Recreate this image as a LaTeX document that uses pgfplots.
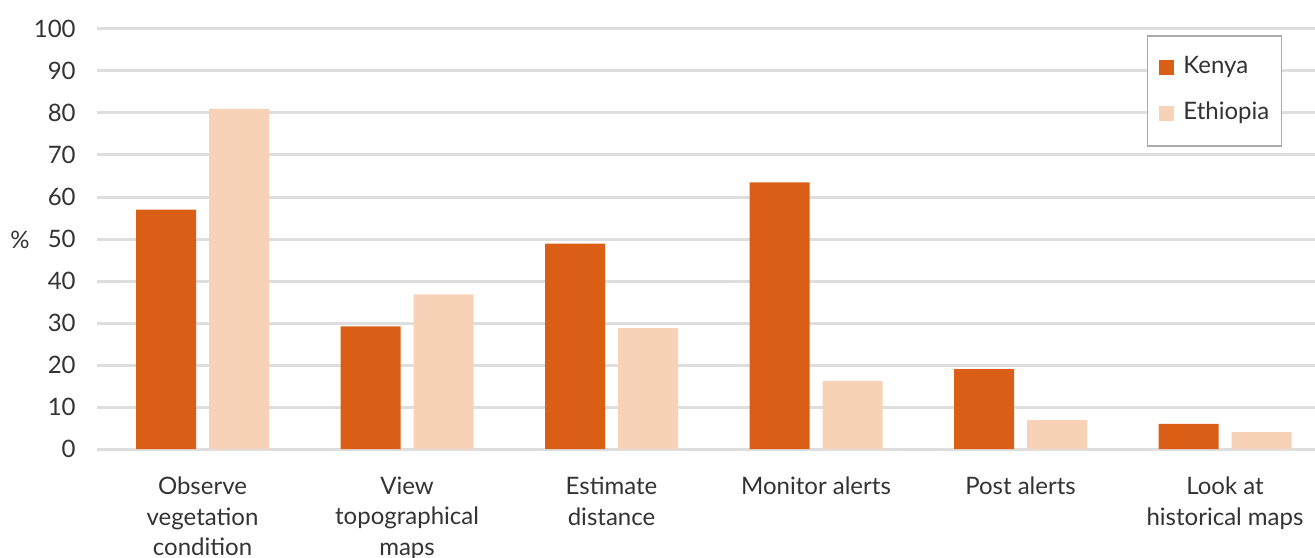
\documentclass[border=0pt]{standalone}
\usepackage{pgfplots}
\pgfplotsset{compat=1.18}
\usepackage{fontspec}
\setmainfont{Lato}
\definecolor{kenya}{HTML}{DA5E16}
\definecolor{ethiopia}{HTML}{F8D2B6}
\definecolor{gridc}{HTML}{DEDEDE}
\definecolor{txt}{HTML}{333333}
\begin{document}
\begin{tikzpicture}
\begin{axis}[
  scale only axis,
  width=609pt, height=210pt,
  ybar=6.5pt, bar width=30pt,
  xmin=-0.516, xmax=5.44,
  ymin=0, ymax=100,
  clip=false,
  axis line style={draw=none},
  major tick style={draw=none},
  ytick={0,10,...,100},
  /pgf/number format/assume math mode=true,
  ymajorgrids,
  major grid style={line width=1.5pt, gridc},
  xtick=data,
  xticklabels={Observe\\vegetation\\condition, View\\topographical\\maps, Estimate\\distance, Monitor alerts, Post alerts, Look at\\historical maps},
  font=\fontsize{12}{15.25}\selectfont\color{txt},
  xticklabel style={align=center, anchor=north, inner sep=0pt, yshift=-9.5pt},
  yticklabel style={anchor=east, inner sep=0pt, xshift=-10.5pt},
  ylabel={\%},
  ylabel style={rotate=-90, at={(axis description cs:-0.0632,0.498)}, anchor=center},
  legend style={at={(rel axis cs:0.9729,0.9857)}, anchor=north east,
    draw=black!33, line width=0.75pt, inner xsep=6pt, inner ysep=11pt,
    row sep=13pt, column sep=4.5pt,
    nodes={inner sep=0pt, text height=8pt, text depth=2pt, anchor=west},
    font=\fontsize{12}{14}\selectfont\color{txt}},
  legend cell align=left,
  legend image code/.code={\fill[#1, draw=none] (0pt,-3.75pt) rectangle (7.5pt,3.75pt);},
]
\addplot[fill=kenya, draw=none] coordinates {(0,57) (1,29.2) (2,48.9) (3,63.5) (4,19) (5,6)};
\addplot[fill=ethiopia, draw=none] coordinates {(0,81) (1,36.8) (2,28.8) (3,16.2) (4,6.9) (5,4)};
\legend{Kenya, Ethiopia}
\end{axis}
\pgfresetboundingbox
\path (-48.5pt,-54pt) rectangle (609pt,224.5pt);
\end{tikzpicture}
\end{document}
